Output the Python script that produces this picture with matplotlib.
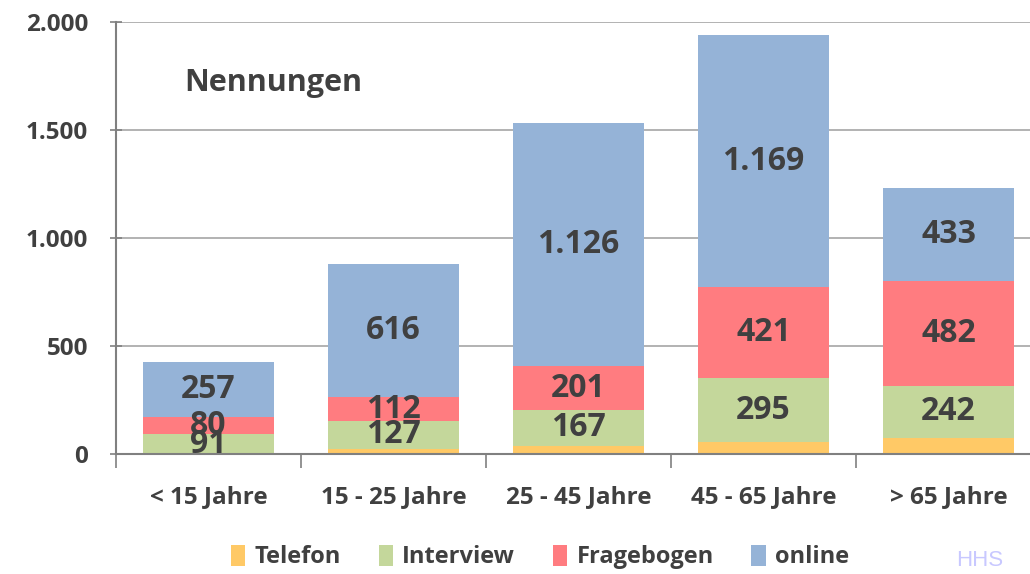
import matplotlib.pyplot as plt
import numpy as np

# Nennungen nach Altersgruppe und Kanal
categories = ["< 15 Jahre", "15 - 25 Jahre", "25 - 45 Jahre", "45 - 65 Jahre", "> 65 Jahre"]
telefon = [0, 25, 38, 55, 75]
interview = [91, 127, 167, 295, 242]
fragebogen = [80, 112, 201, 421, 482]
online = [257, 616, 1126, 1169, 433]

series = [("Telefon", telefon, "#FFC966", False),
          ("Interview", interview, "#C4D79B", True),
          ("Fragebogen", fragebogen, "#FF7C80", True),
          ("online", online, "#95B3D7", True)]

txt = "#404040"
plt.rcParams['font.family'] = ['Open Sans', 'DejaVu Sans']

fig = plt.figure(figsize=(10.3, 5.74), dpi=100)
ax = fig.add_axes([116 / 1030, 120 / 574, 925 / 1030, 432 / 574])

x = np.arange(len(categories))
bottom = np.zeros(len(categories))
for name, vals, col, show in series:
    vals = np.array(vals, dtype=float)
    ax.bar(x, vals, width=0.71, bottom=bottom, color=col, label=name, zorder=2)
    if show:
        for xi, b, v in zip(x, bottom, vals):
            lab = f"{int(v):,}".replace(",", ".")
            ax.text(xi, b + v / 2, lab, ha="center", va="center", fontsize=23,
                    fontweight="bold", color=txt, zorder=3)
    bottom += vals

ax.set_xlim(-0.5, 4.5)
ax.set_ylim(0, 2000)
ax.set_yticks([0, 500, 1000, 1500, 2000])
ax.set_yticklabels(["0", "500", "1.000", "1.500", "2.000"])
ax.yaxis.grid(True, color="#A6A6A6", linewidth=1.2, zorder=0)
ax.set_axisbelow(True)

ax.set_xticks(np.arange(-0.5, 5, 1), minor=False)
ax.set_xticklabels([])
ax.set_xticks(x, minor=True)
ax.set_xticklabels(categories, minor=True)
ax.tick_params(axis="x", which="major", length=10, width=1.2, color="#808080", direction="out")
ax.tick_params(axis="x", which="minor", length=0, pad=22, labelsize=17.5, labelcolor=txt)
ax.tick_params(axis="y", length=8, width=1.2, color="#808080", direction="inout",
               labelsize=17.5, labelcolor=txt, pad=16)
for lbl in ax.get_xticklabels(minor=True) + ax.get_yticklabels():
    lbl.set_fontweight("bold")

for s in ["top", "right"]:
    ax.spines[s].set_visible(False)
for s in ["left", "bottom"]:
    ax.spines[s].set_color("#808080")
    ax.spines[s].set_linewidth(1.5)

ax.text(-0.13, 1717, "Nennungen", fontsize=22, fontweight="bold", color=txt, va="center")

fig.legend(loc="center", bbox_to_anchor=(540 / 1030, 1 - 557 / 574), ncol=4, frameon=False,
           prop={"size": 17, "weight": "bold"}, labelcolor=txt, handlelength=0.6,
           handleheight=1.0, handletextpad=0.4, columnspacing=1.6)
fig.text(980 / 1030, 1 - 560 / 574, "HHS", fontsize=16, color="#C8C8FF", ha="center",
         va="center", family="Liberation Sans")

fig.savefig("out.png", dpi=100)
